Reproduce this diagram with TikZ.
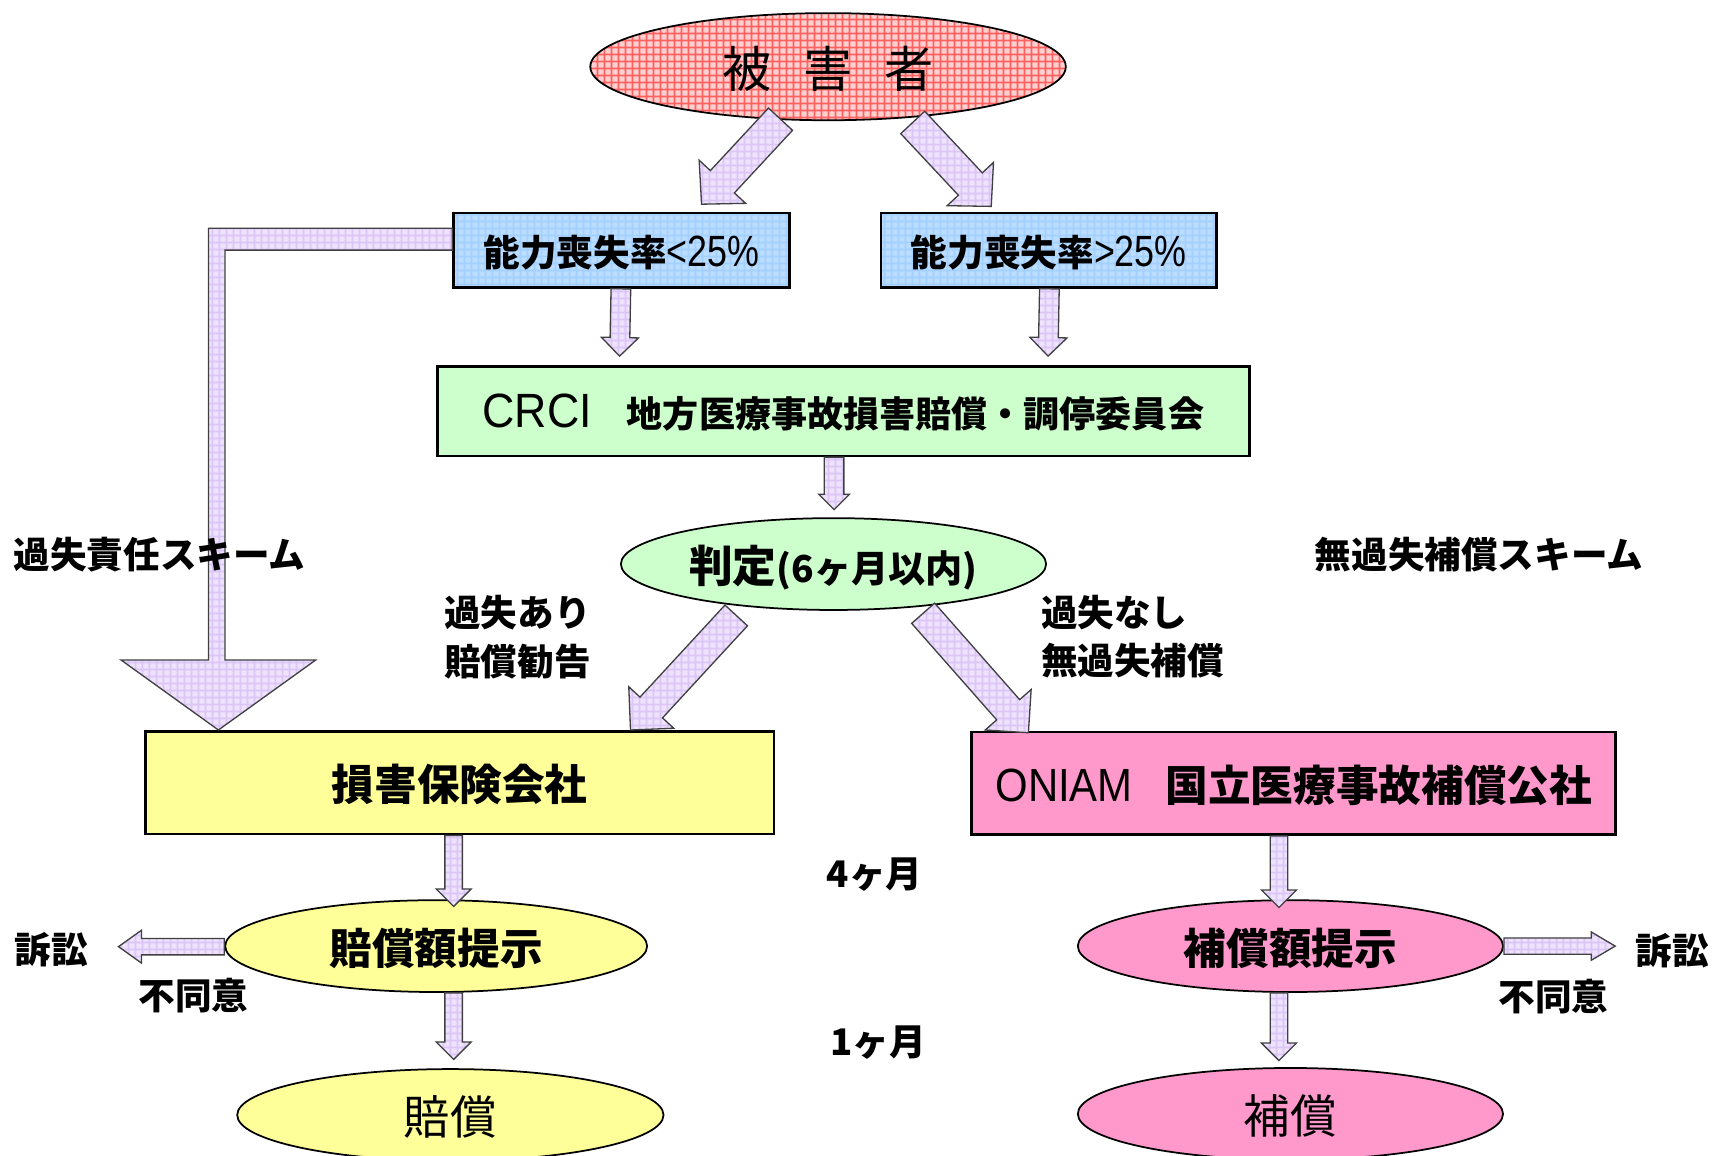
\documentclass[tikz,border=0pt]{standalone}
\usepackage{graphicx}
\usepackage{fontspec}
\setmainfont{Noto Sans CJK JP}
\newfontfamily\latin{Liberation Sans}
\usetikzlibrary{shapes.geometric,calc,patterns.meta}
\newcommand\setfs[1]{\fontsize{#1}{#1}\selectfont}
\definecolor{vicbase}{HTML}{FFD0D0}
\definecolor{vicline}{HTML}{FF6060}
\definecolor{bluebase}{HTML}{BBDDFF}
\definecolor{blueline}{HTML}{A2D0FF}
\definecolor{arrbase}{HTML}{EEE2FF}
\definecolor{arrline}{HTML}{DCC6F6}
\definecolor{grn}{HTML}{CCFFCC}
\definecolor{ylw}{HTML}{FFFF99}
\definecolor{pnk}{HTML}{FF99CC}
\tikzdeclarepattern{
  name=cgrid,
  type=uncolored,
  bounding box={(0pt,0pt) and (3.2pt,3.2pt)},
  tile size={(3.2pt,3.2pt)},
  code={\draw[line width=0.8pt] (0pt,1.6pt) -- (3.2pt,1.6pt) (1.6pt,0pt) -- (1.6pt,3.2pt);}
}
\newcommand\blockarrow[5]{%
  \path[arr] let \p1=#1, \p2=#2, \n1={atan2(\y2-\y1,\x2-\x1)} in
    ($(\p1)+({\n1+90}:#3)$) -- ($(\p2)+({\n1+180}:#5)+({\n1+90}:#3)$) --
    ($(\p2)+({\n1+180}:#5)+({\n1+90}:#4)$) -- (\p2) --
    ($(\p2)+({\n1+180}:#5)+({\n1-90}:#4)$) -- ($(\p2)+({\n1+180}:#5)+({\n1-90}:#3)$) --
    ($(\p1)+({\n1-90}:#3)$) -- cycle;}
\begin{document}
\begin{tikzpicture}[x=0.5pt,y=-0.5pt,
  box/.style={draw, line width=1.2pt, rectangle, inner sep=0pt, text depth=0pt},
  ell/.style={draw, line width=0.8pt, ellipse, inner sep=0pt, text depth=0pt},
  arr/.style={draw=black!75, line width=0.6pt, line join=miter, preaction={fill=arrbase}, pattern=cgrid, pattern color=arrline},
  lab/.style={inner sep=0pt, font=\bfseries\setfs{16.75pt}},
]
\useasboundingbox (0,0) rectangle (1568,1057);
% shapes
\node[ell, minimum width=217.5pt, minimum height=49pt, preaction={fill=vicbase}, pattern=cgrid, pattern color=vicline] (victim) at (757.5,61) {\setfs{22.5pt}被\hspace{14.5pt}害\hspace{14.5pt}者};
\node[box, minimum width=153.5pt, minimum height=34pt, preaction={fill=bluebase}, pattern=cgrid, pattern color=blueline] (lt) at (568.5,229) {\bfseries\setfs{16.75pt}能力喪失率{\mdseries\latin\scalebox{0.82}[1]{\setfs{20pt}<25\%}}};
\node[box, minimum width=153.5pt, minimum height=34pt, preaction={fill=bluebase}, pattern=cgrid, pattern color=blueline] (rt) at (959.5,229) {\bfseries\setfs{16.75pt}能力喪失率{\mdseries\latin\scalebox{0.82}[1]{\setfs{20pt}>25\%}}};
\node[box, minimum width=371.5pt, minimum height=41pt, fill=grn] (crci) at (771.5,376) {{\latin\scalebox{0.93}[1]{\setfs{22pt}CRCI}}\hspace{16pt}{\bfseries\setfs{16.5pt}地方医療事故損害賠償・調停委員会}};
\node[ell, minimum width=194.5pt, minimum height=42pt, fill=grn] (judge) at (762.5,516) {{\bfseries\setfs{20pt}判定}{\bfseries\setfs{17pt}(6ヶ月以内)}};
\node[box, minimum width=287.5pt, minimum height=47pt, fill=ylw] (yb) at (420.5,716) {\bfseries\setfs{19.5pt}損害保険会社};
\node[box, minimum width=294.5pt, minimum height=47pt, fill=pnk] (oniam) at (1183.5,716.5) {{\latin\scalebox{0.9}[1]{\setfs{21.3pt}ONIAM}}\hspace{15pt}\resizebox{195pt}{!}{\bfseries\setfs{21.75pt}国立医療事故補償公社}};
\node[ell, minimum width=193pt, minimum height=42pt, fill=ylw] (e1) at (399,865.5) {\bfseries\setfs{19.5pt}賠償額提示};
\node[ell, minimum width=195pt, minimum height=42pt, fill=ylw] (e2) at (412,1020) {\setfs{21.25pt}賠償};
\node[ell, minimum width=194.5pt, minimum height=42pt, fill=pnk] (e3) at (1180.5,865.5) {\bfseries\setfs{19.5pt}補償額提示};
\node[ell, minimum width=194.5pt, minimum height=42pt, fill=pnk] (e4) at (1180.5,1019) {\setfs{21.25pt}補償};
% side labels (named first for arrow ends)
\node[lab] (l9) at (47,869) {訴訟};
\node[lab] (l10) at (1530,870) {訴訟};
% arrows
\blockarrow{($(victim.center)+(-43.5,48)$)}{($(lt.north west)+(228,-7)$)}{7.5pt}{14.5pt}{14pt}
\blockarrow{($(victim.center)+(77.5,51)$)}{($(rt.north west)+(102,-5)$)}{7.5pt}{14.5pt}{14pt}
\blockarrow{($(lt.south)+(-0.5,0)$)}{($(crci.north west)+(168,-8)$)}{4.5pt}{8.5pt}{8.5pt}
\blockarrow{($(rt.south)+(0.5,0)$)}{($(crci.north west)+(560,-8)$)}{4.5pt}{8.5pt}{8.5pt}
\blockarrow{($(crci.south)+(-8.5,0)$)}{($(judge.north)+(0.5,-7)$)}{4.5pt}{7pt}{7pt}
\blockarrow{($(judge.center)+(-89,47)$)}{($(yb.north west)+(445,0)$)}{7pt}{14pt}{14pt}
\blockarrow{($(judge.center)+(82,45)$)}{($(oniam.north west)+(53,2)$)}{7pt}{14pt}{14pt}
\blockarrow{($(yb.south)+(-5.5,0)$)}{($(e1.north)+(16,6.5)$)}{4pt}{8pt}{8pt}
\blockarrow{($(e1.south)+(16,0)$)}{($(e2.north)+(3,-8)$)}{4pt}{8pt}{8pt}
\blockarrow{($(oniam.south)+(-13.5,0)$)}{($(e3.north)+(-10.5,7.5)$)}{4pt}{8pt}{8pt}
\blockarrow{($(e3.south)+(-10.5,0)$)}{($(e4.north)+(-10.5,-6)$)}{4pt}{8pt}{8pt}
\blockarrow{($(e1.west)+(0,0.5)$)}{($(l9.east)+(27.5,-3)$)}{3.75pt}{7.5pt}{10.5pt}
\blockarrow{(e3.east)}{($(l10.west)+(-18.5,-4.5)$)}{3.75pt}{6.5pt}{11pt}
% L-shaped arrow (fault liability scheme)
\path[arr] ($(lt.north west)+(0,15)$) -- ($(lt.north west)+(-223,15)$) -- ($(yb.north west)+(59,-64)$)
  -- ($(yb.north west)+(-21,-64)$) -- ($(yb.north west)+(68,0)$) -- ($(yb.north west)+(157,-64)$)
  -- ($(yb.north west)+(74,-64)$) -- ($(lt.north west)+(-208,35)$) -- ($(lt.north west)+(0,35)$) -- cycle;
% labels
\node[lab] (l1) at (146,507) {過失責任スキーム};
\node[lab] (l2) at (1353,507) {無過失補償スキーム};
\node[lab, anchor=west] (l3) at (406,560.5) {過失あり};
\node[lab, anchor=west] (l4) at (406,605) {賠償勧告};
\node[lab, anchor=west] (l5) at (952,560) {過失なし};
\node[lab, anchor=west] (l6) at (952,604) {無過失補償};
\node[lab, anchor=west] (l7) at (756,800) {4ヶ月};
\node[lab, anchor=west] (l8) at (759,954) {1ヶ月};
\node[lab] (l11) at (177,911) {不同意};
\node[lab] (l12) at (1421,912) {不同意};
\end{tikzpicture}
\end{document}
